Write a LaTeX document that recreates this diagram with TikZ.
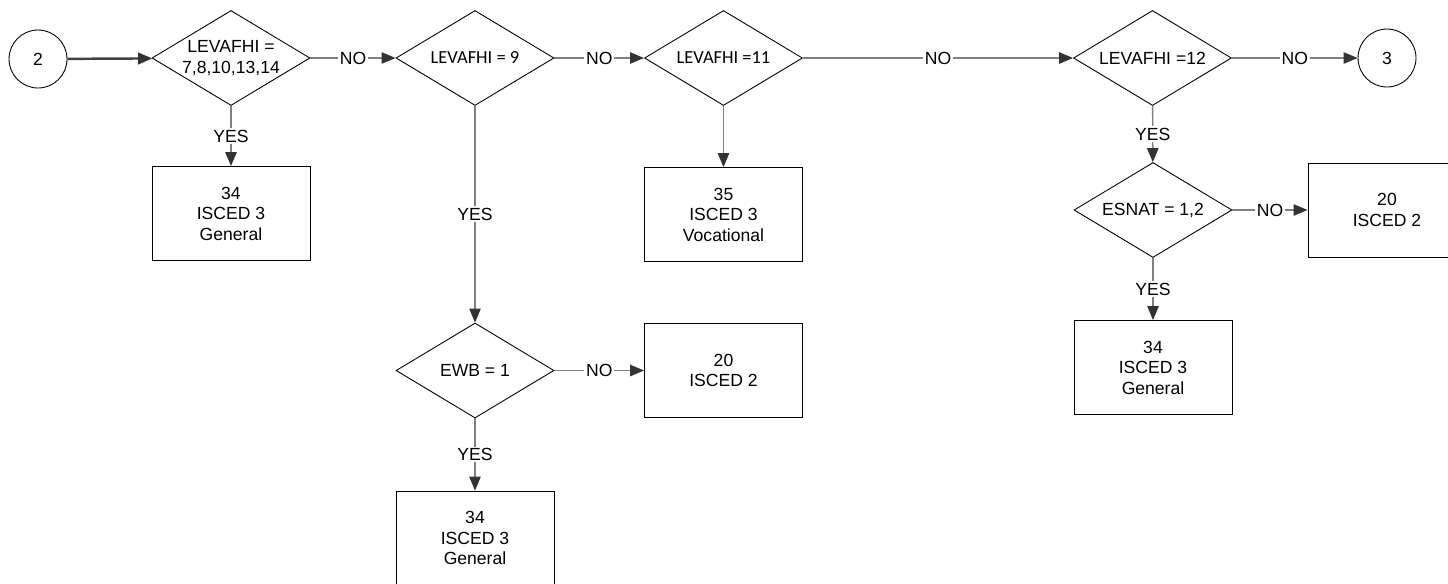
\documentclass[tikz,border=0pt]{standalone}
\usepackage{fontspec}
\setmainfont{Liberation Sans}
\newfontfamily\calfont{Carlito}
\usetikzlibrary{arrows.meta, shapes.geometric, positioning}

\begin{document}
\begin{tikzpicture}[x=0.02cm, y=-0.02cm,
	font=\fontsize{10}{11.7}\selectfont,
	test/.style={draw, diamond, shape aspect=1.68, inner sep=0pt, minimum width=3.16cm, minimum height=1.9cm, align=center, line width=0.5pt},
	box/.style={draw, rectangle, minimum width=3.16cm, minimum height=1.88cm, align=center, line width=0.5pt},
	link/.style={draw, circle, minimum size=1.16cm, line width=0.5pt},
	conn/.style={draw=black!50, line width=0.8pt, -{Triangle[length=8pt, width=6.5pt, color=black!80]}},
	lbl/.style={fill=white, inner sep=1pt}]
			\useasboundingbox (0,0) rectangle (1448,583);
			\node[link] (c2) at (38,59) {2};
			\node[test] (d1) at (231,58) {LEVAFHI =\\7,8,10,13,14};
			\node[test] (d2) at (475,58) {\calfont\fontsize{10.5}{12}\selectfont LEVAFHI = 9};
			\node[test] (d3) at (723.5,58) {\calfont\fontsize{10.5}{12}\selectfont LEVAFHI =11};
			\node[test] (d5) at (1152.5,58) {LEVAFHI =12};
			\node[link] (c3) at (1387,58) {3};
			\node[box] (b1) at (231,213.5) {34\\ISCED 3\\General};
			\node[box] (b3) at (723.5,214.5) {35\\ISCED 3\\Vocational};
			\node[test] (d4) at (475,370.5) {EWB = 1};
			\node[box] (b4) at (723.5,370.5) {20\\ISCED 2};
			\node[box] (b5) at (475,538) {34\\ISCED 3\\General};
			\node[test] (d6) at (1153,210) {ESNAT = 1,2};
			\node[box] (b6) at (1387,210) {20\\ISCED 2};
			\node[box] (b7) at (1153,367.5) {34\\ISCED 3\\General};
			\draw[conn, line width=1.4pt, draw=black!75] (c2) -- (d1);
			\draw[conn] (d1) -- node[lbl]{NO} (d2);
			\draw[conn] (d2) -- node[lbl]{NO} (d3);
			\draw[conn] (d3) -- node[lbl]{NO} (d5);
			\draw[conn] (d5) -- node[lbl]{NO} (c3);
			\draw[conn] (d1) -- node[lbl]{YES} (b1);
			\draw[conn] (d2) -- node[lbl]{YES} (d4);
			\draw[conn] (d3) -- (b3);
			\draw[conn] (d4) -- node[lbl]{NO} (b4);
			\draw[conn] (d4) -- node[lbl]{YES} (b5);
			\draw[conn] (d5) -- node[lbl]{YES} (d6);
			\draw[conn] (d6) -- node[lbl]{NO} (b6);
			\draw[conn] (d6) -- node[lbl]{YES} (b7);
		\end{tikzpicture}
\end{document}
